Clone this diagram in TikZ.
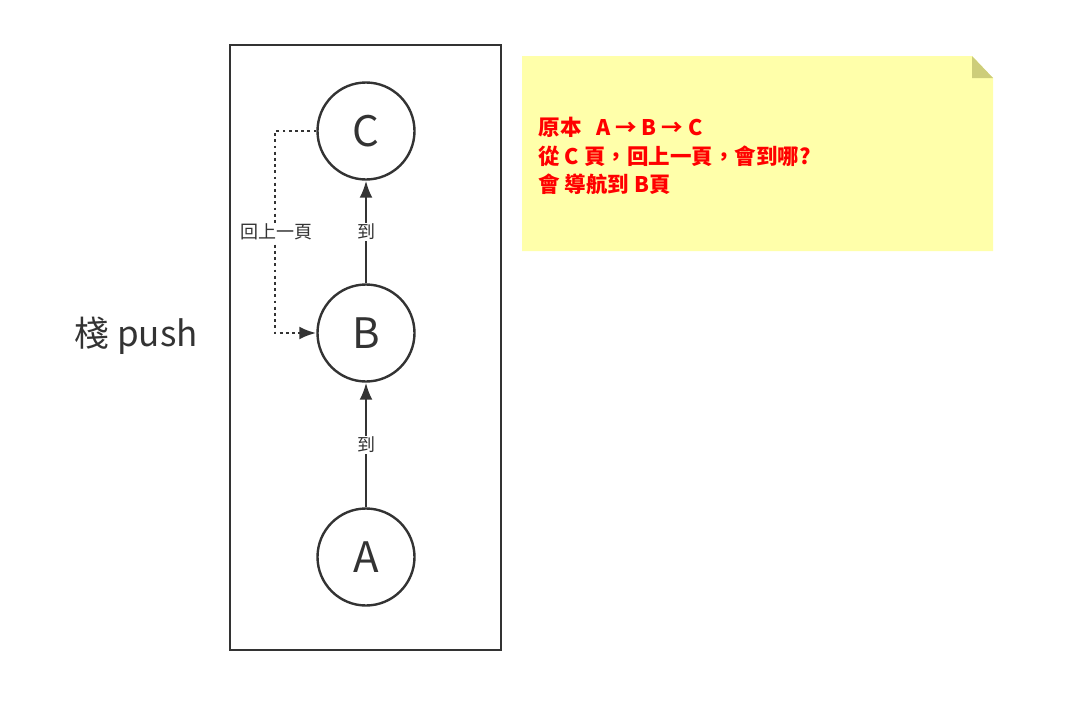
\documentclass[tikz,border=0pt]{standalone}
\usepackage{fontspec}
\setmainfont{Noto Sans CJK TC}
\usetikzlibrary{arrows.meta,calc}
\definecolor{ink}{HTML}{333333}
\definecolor{notefill}{HTML}{FFFFAA}
\definecolor{notefold}{HTML}{CDCD7A}

\begin{document}
\begin{tikzpicture}
  [
    x=1pt, y=-1pt,
    page/.style =
      {draw=ink, circle, line width=2.4pt, minimum size=97pt, inner sep=0pt,
       text=ink, font=\fontsize{42}{42}\selectfont},
    hop/.style = {draw=ink, line width=2.4pt, -{Latex[length=17pt,width=13pt]}},
    tag/.style = {fill=white, text=ink, inner sep=1pt, font=\fontsize{18}{18}\selectfont}
  ]
  \useasboundingbox (0,0) rectangle (1069,707);

  % stack frame
  \draw [ink, line width=2.4pt] (230,45) rectangle (501,650);
  \node [text=ink, font=\fontsize{35}{35}\selectfont] (stack) at (136,336) {棧 push};

  \node [page] (C) at (366,131) {C};
  \node [page] (B) at (366,333) {B};
  \node [page] (A) at (366,557) {A};

  \draw [hop] (A) -- node [tag] (toB) {到} (B);
  \draw [hop] (B) -- node [tag] (toC) {到} (C);

  \draw [hop, line width=2.8pt, dash pattern=on 2.8pt off 3.4pt]
    (C.west) -| (275,232) |- (B.west);
  \node [tag] (back) at (276,232) {回上一頁};

  % sticky note
  \fill [notefill] (522,56) -- (972,56) -- (993,78) -- (993,251) -- (522,251) -- cycle;
  \fill [notefold] (972,56) -- (993,78) -- (972,78) -- cycle;
  \node [anchor=west, align=left, text=red, font=\bfseries\fontsize{21.5}{28.5}\selectfont]
    (note) at (535,156) {原本~~~A → B → C\\從 C 頁，回上一頁，會到哪?\\會 導航到 B頁};

\end{tikzpicture}
\end{document}
